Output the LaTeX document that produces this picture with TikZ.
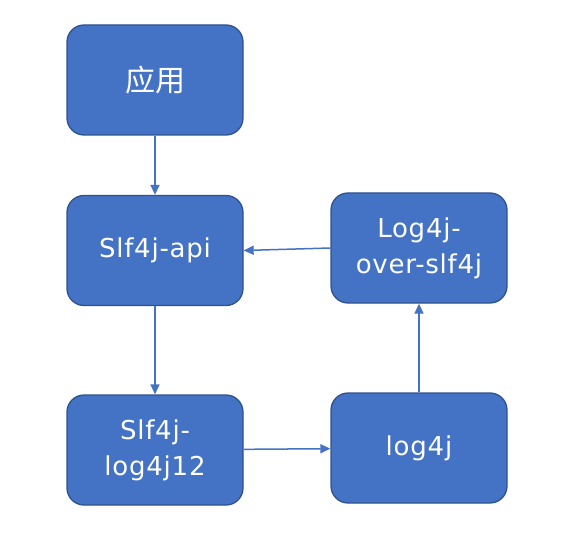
\documentclass[tikz,border=0pt]{standalone}
\usepackage{fontspec}
\setmainfont[LetterSpace=3]{DejaVu Sans}
\newfontfamily\cjk{Noto Sans CJK SC}
\usetikzlibrary{arrows.meta}
\definecolor{boxfill}{HTML}{4472C4}
\definecolor{boxline}{HTML}{2F528F}
\begin{document}
\begin{tikzpicture}[x=1pt,y=-1pt,
  blk/.style={draw=boxline, line width=1.3pt, fill=boxfill, rounded corners=17pt,
    minimum width=176pt, minimum height=110pt, text=white, align=center,
    font=\fontsize{26}{36}\selectfont, inner sep=0pt},
  conn/.style={draw=boxfill, line width=1.5pt, -{Triangle[length=10pt,width=9pt]}}]
\useasboundingbox (0,0) rectangle (570,540);
\node[blk] (app) at (155,80) {\cjk\fontsize{30}{36}\selectfont 应用};
\node[blk] (api) at (155,250.5) {Slf4j-api};
\node[blk] (bind) at (155,450) {Slf4j-\\log4j12};
\node[blk] (log) at (419,448) {log4j};
\node[blk] (over) at (419,248) {Log4j-\\over-slf4j};
\draw[conn] (app) -- (api);
\draw[conn] (api) -- (bind);
\draw[conn] (bind) -- (log);
\draw[conn] (log) -- (over);
\draw[conn] (over.west) -- (api.east);
\end{tikzpicture}
\end{document}
